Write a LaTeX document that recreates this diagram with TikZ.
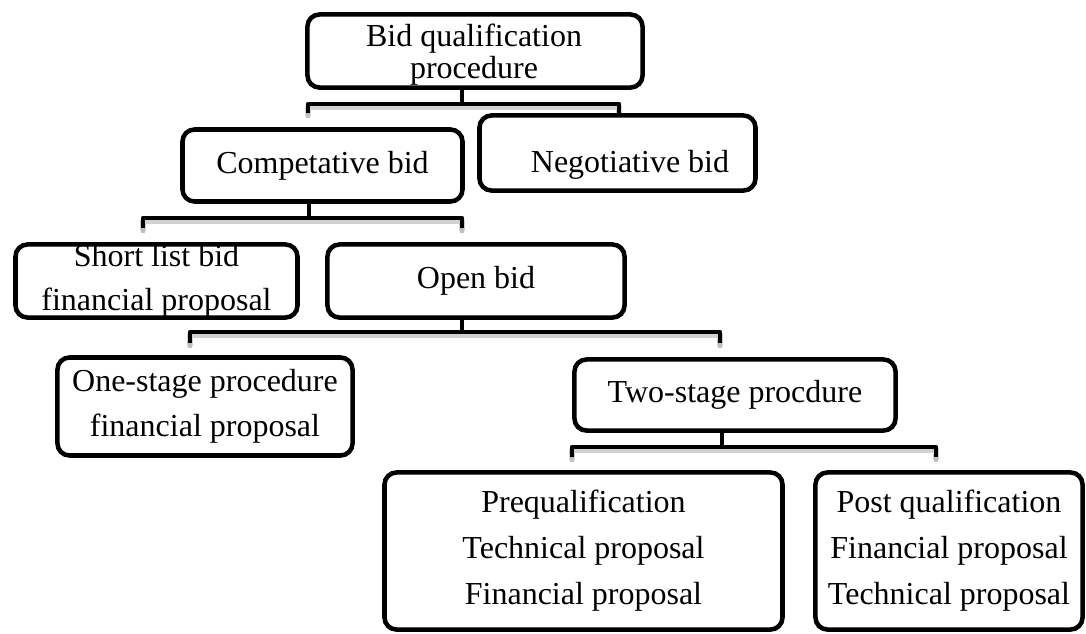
\documentclass[tikz,border=0pt]{standalone}
\usepackage{fontspec}
\setmainfont{Liberation Serif}
\pgfdeclarelayer{background}
\pgfsetlayers{background,main}
\tikzset{
  box/.style={draw=black, fill=white, line width=3.4pt, rounded corners=9pt,
    align=center, inner sep=0pt, font=\fontsize{24}{34}\selectfont},
  plain/.style={align=center, inner sep=0pt, font=\fontsize{24}{34}\selectfont},
  bracket/.style={draw=black, line width=3.6pt, line join=round},
  bshadow/.style={draw=black!30, line width=5pt, line join=round, opacity=0.6},
  legfade/.style={draw=black!25, line width=3.6pt},
}
\begin{document}
\begin{tikzpicture}[x=0.75pt,y=-0.75pt]
\useasboundingbox (0,0) rectangle (1086,633);

% boxes of the tree
\node[box, minimum width=251.3pt, minimum height=54.8pt] (top) at (475,51) {};
\node[plain, font=\fontsize{24}{24}\selectfont] (toptext) at (474,55)
  {Bid qualification\\procedure};
\node[box, minimum width=210pt, minimum height=54pt] (comp) at (322.5,165.5)
  {Competative bid};
\node[box, minimum width=207pt, minimum height=56.3pt] (neg) at (617.5,153) {};
\node[plain] (negtext) at (630,165) {Negotiative bid};
\node[box, minimum width=211.5pt, minimum height=54.8pt,
      font=\fontsize{24}{33}\selectfont] (short) at (156.5,281)
  {Short list bid\\financial proposal};
\node[box, minimum width=222.8pt, minimum height=54.8pt] (open) at (476,281)
  {Open bid};
\node[box, minimum width=221.3pt, minimum height=73.5pt] (one) at (205,406.5)
  {One-stage procedure\\financial proposal};
\node[box, minimum width=240.8pt, minimum height=53.3pt] (two) at (735,395)
  {Two-stage procdure};
\node[box, minimum width=298.5pt, minimum height=117.8pt,
      font=\fontsize{24}{34.5}\selectfont] (pre) at (583.5,551)
  {Prequalification\\Technical proposal\\Financial proposal};
\node[box, minimum width=200.3pt, minimum height=117.8pt,
      font=\fontsize{24}{34.5}\selectfont] (post) at (949,551)
  {Post qualification\\Financial proposal\\Technical proposal};

% bracket junctions and leg ends
\coordinate (j1) at (462,104); \coordinate (l1) at (308,113); \coordinate (r1) at (619,113);
\coordinate (j2) at (309,218); \coordinate (l2) at (143,228); \coordinate (r2) at (462,228);
\coordinate (j3) at (462,332); \coordinate (l3) at (190,343); \coordinate (r3) at (720,343);
\coordinate (j4) at (722,447); \coordinate (l4) at (572,457); \coordinate (r4) at (936,457);

\begin{pgfonlayer}{background}
\foreach \p/\j/\l/\r in {top/j1/l1/r1, comp/j2/l2/r2, open/j3/l3/r3, two/j4/l4/r4}{
  \draw[bshadow, transform canvas={yshift=-2.2pt}] (\l) -- (\l |- \j) -- (\r |- \j) -- (\r);
  \draw[legfade] (\l) -- ++(0,5);
  \draw[legfade] (\r) -- ++(0,5);
  \draw[bracket] (\l) -- (\l |- \j) -- (\r |- \j) -- (\r);
  \draw[bracket] (\j) -- (\j |- \p.south);
}
\end{pgfonlayer}
\end{tikzpicture}
\end{document}
